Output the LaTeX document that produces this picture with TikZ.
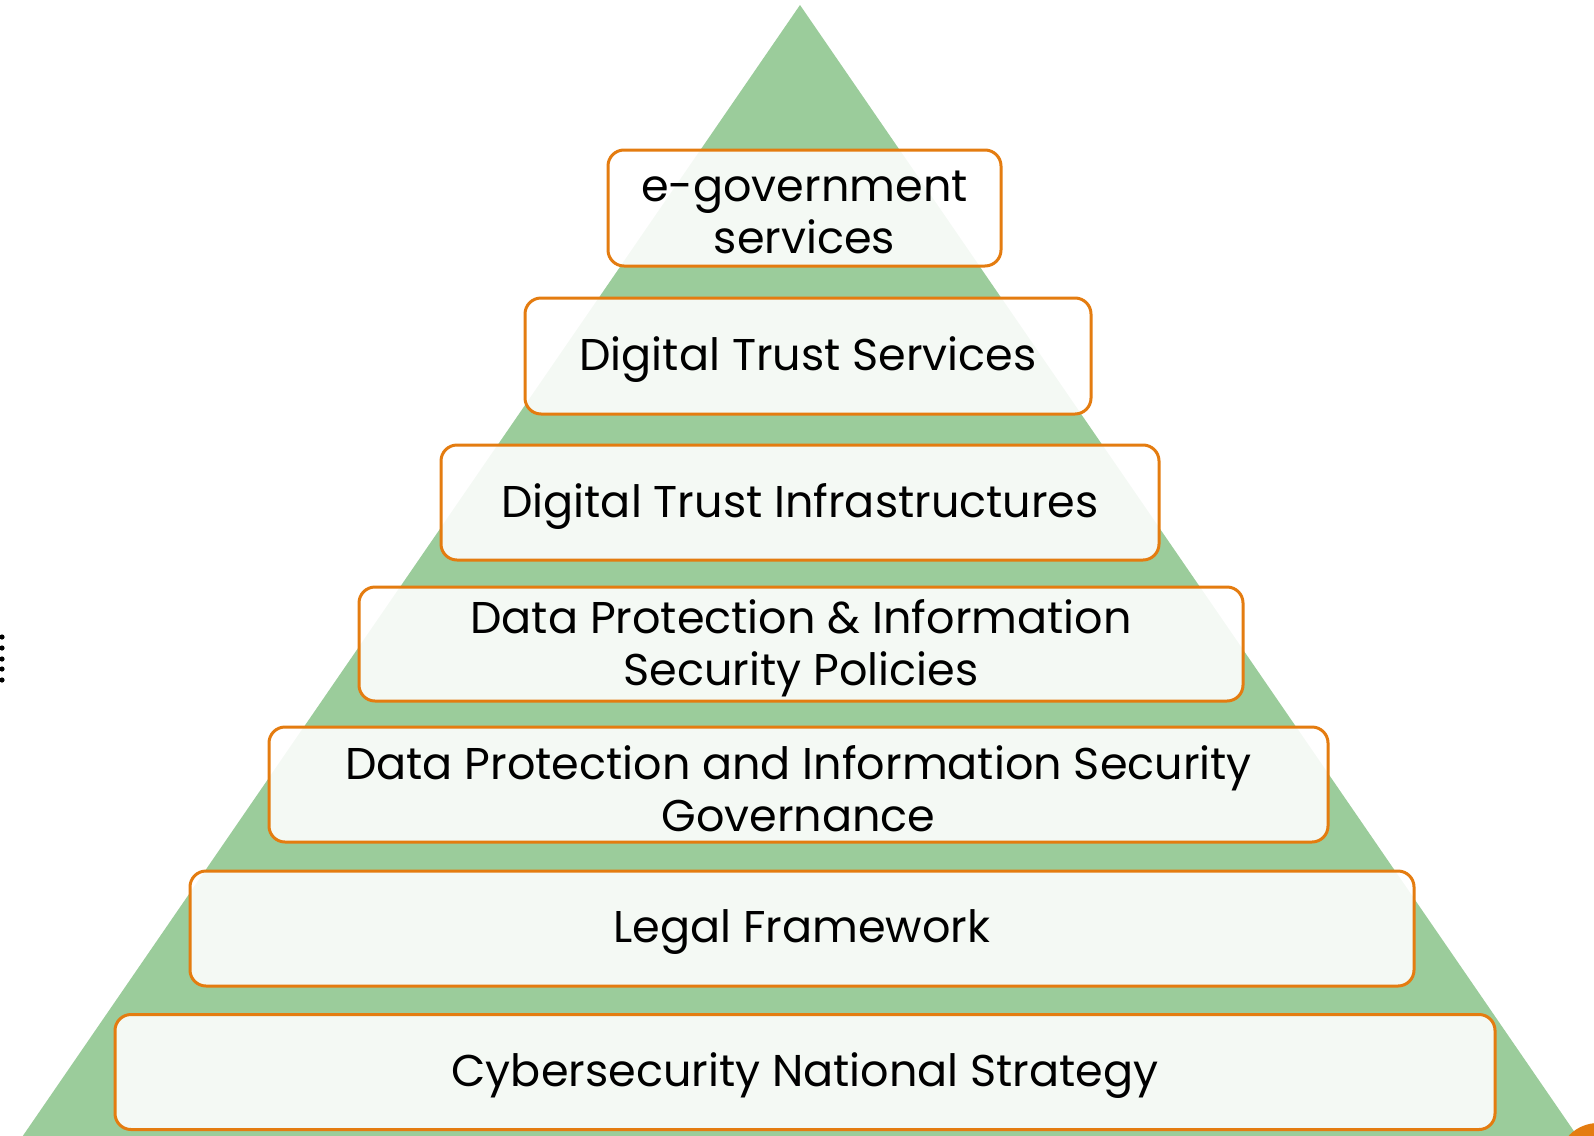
\documentclass[tikz,border=0pt]{standalone}
\usepackage{fontspec}
\setmainfont{Poppins}
\definecolor{pgreen}{RGB}{155,204,155}
\definecolor{porange}{RGB}{228,124,16}
\tikzset{
  layer/.style={draw=porange, line width=3pt, rounded corners=16pt, fill=white, fill opacity=0.89, inner sep=0pt},
  layertext/.style={align=center, inner sep=0pt, yshift=-4pt, font=\fontsize{44.5}{52}\selectfont},
  dotmark/.style={fill=black, draw=none}
}
\begin{document}
\begin{tikzpicture}[x=1pt,y=-1pt]
\useasboundingbox (0,0) rectangle (1594,1135);
\clip (0,0) rectangle (1594,1135);
\fill[pgreen] (800,5) -- (1580,1140) -- (20,1140) -- cycle;
\fill[porange] (1598,1163) circle (40);
\foreach \yy in {637,648,659,669,680} \fill[dotmark] (2,\yy) circle (2.6);
\node[layer, minimum width=393pt, minimum height=116pt] (l1) at (804.5,208) {};
\node[layer, minimum width=566pt, minimum height=116pt] (l2) at (808,356) {};
\node[layer, minimum width=718pt, minimum height=115pt] (l3) at (800,502.5) {};
\node[layer, minimum width=884pt, minimum height=114pt] (l4) at (801,644) {};
\node[layer, minimum width=1059pt, minimum height=115pt] (l5) at (798.5,784.5) {};
\node[layer, minimum width=1224pt, minimum height=115pt] (l6) at (802,928.5) {};
\node[layer, minimum width=1380pt, minimum height=115pt] (l7) at (805,1072) {};
\node[layertext] (t1) at (l1.center) {e-government\\services};
\node[layertext] (t2) at (l2.center) {Digital Trust Services};
\node[layertext] (t3) at (l3.center) {Digital Trust Infrastructures};
\node[layertext] (t4) at (l4.center) {Data Protection \& Information\\Security Policies};
\node[layertext] (t5) at (l5.center) {Data Protection and Information Security\\Governance};
\node[layertext] (t6) at (l6.center) {Legal Framework};
\node[layertext] (t7) at (l7.center) {Cybersecurity National Strategy};
\end{tikzpicture}
\end{document}
